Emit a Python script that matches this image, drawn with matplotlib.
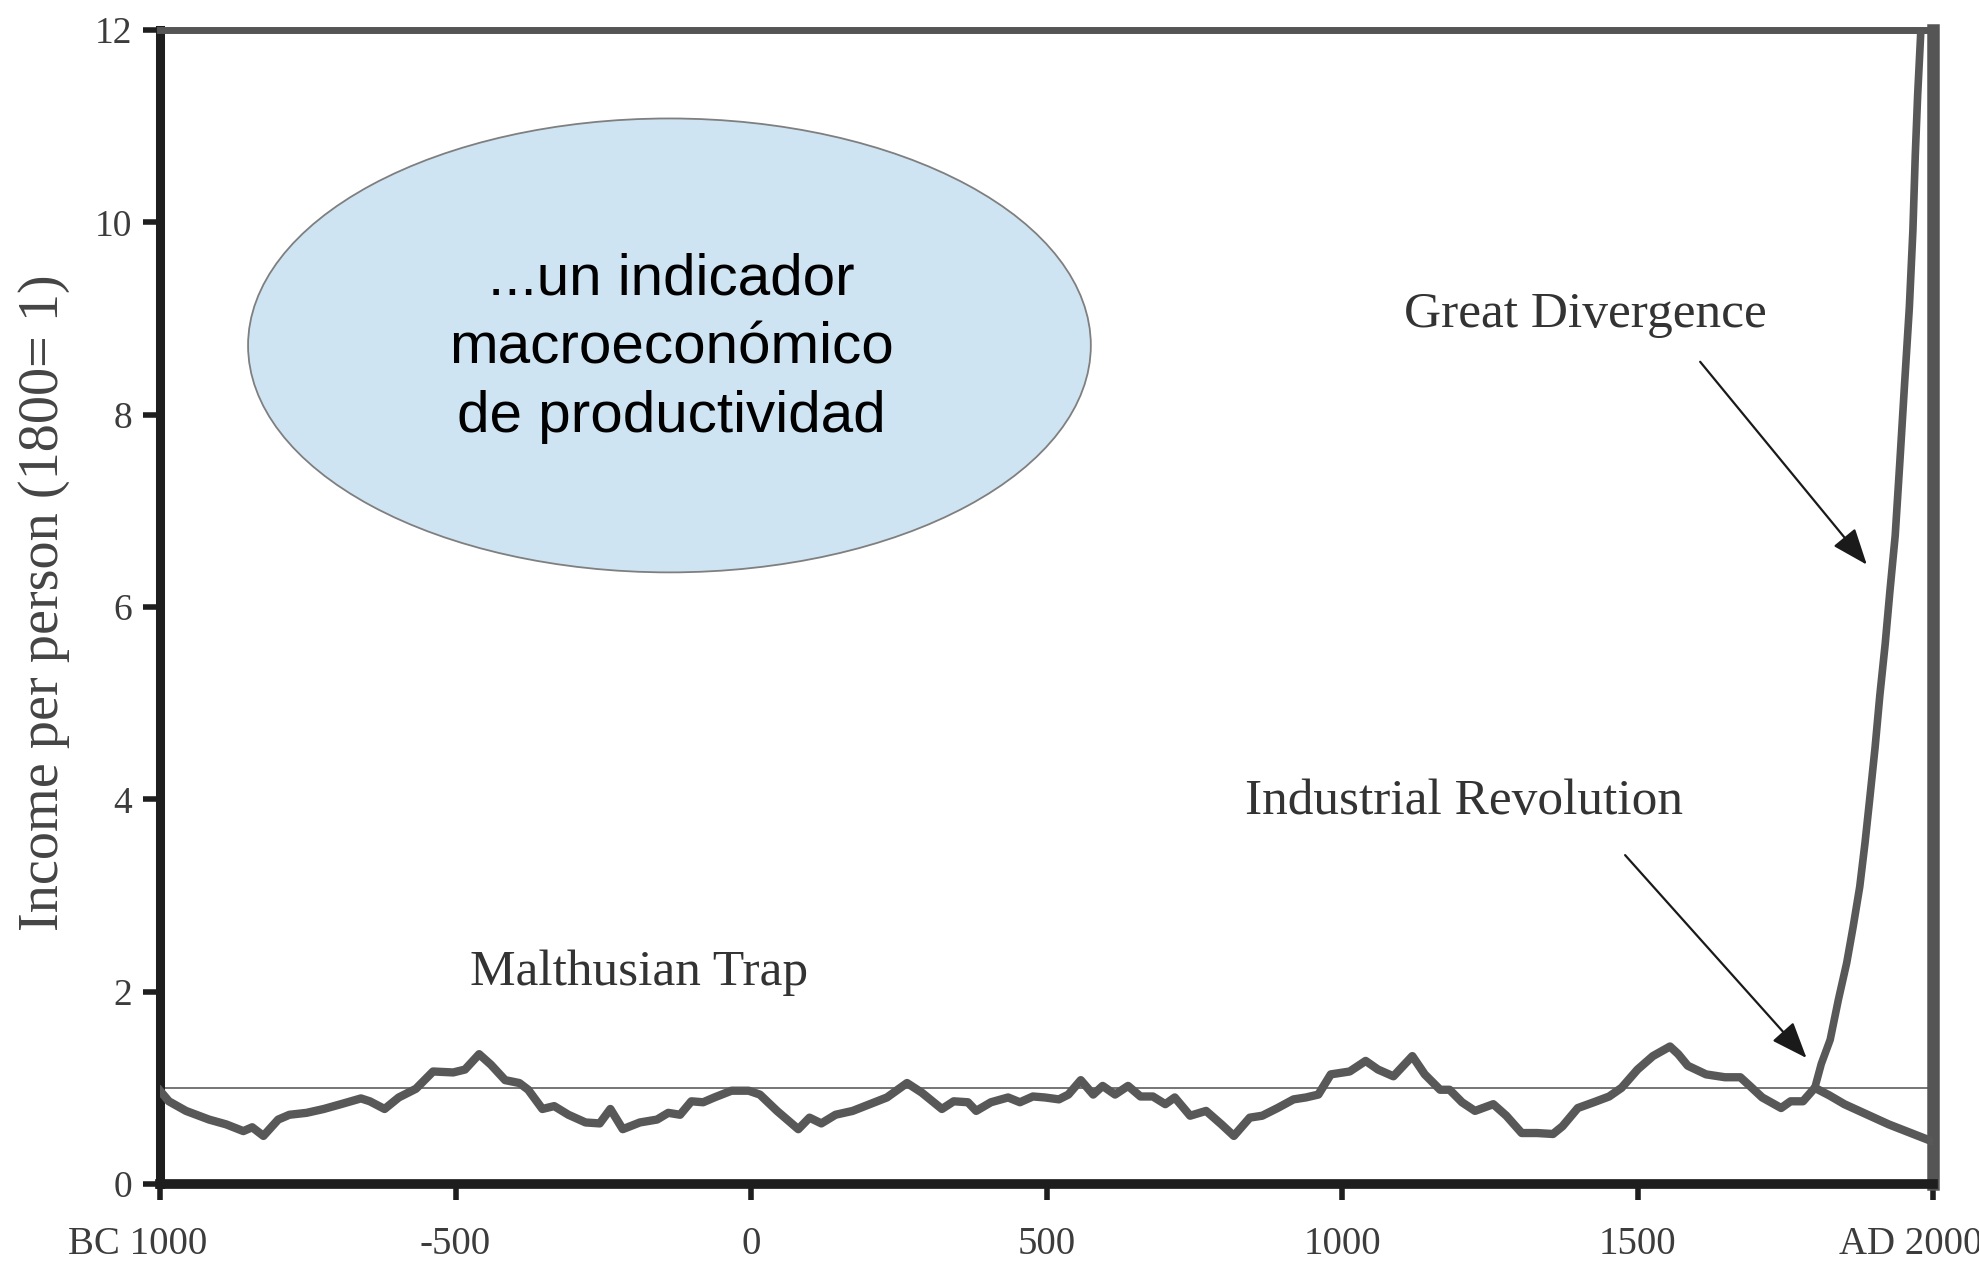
import matplotlib
matplotlib.use('Agg')
import matplotlib.pyplot as plt
from matplotlib.patches import Ellipse
from matplotlib.transforms import ScaledTranslation

# --- datos (Clark, A Farewell to Alms) ---
years = [-1000, -985, -956, -917, -888, -859, -844, -825, -800, -781, -752, -723, -694,
         -660, -645, -620, -596, -567, -538, -504, -484, -460, -440, -416, -392, -377,
         -353, -333, -309, -280, -256, -238, -217, -188, -159, -140, -120, -101, -81,
         -62, -33, -4, 15, 44, 80, 99, 119, 143, 172, 201, 230, 264, 289, 323, 343, 367,
         381, 406, 435, 455, 477, 497, 521, 537, 558, 579, 595, 616, 638, 659, 680, 701,
         717, 743, 770, 796, 817, 844, 865, 891, 918, 939, 960, 981, 1013, 1040, 1061,
         1087, 1119, 1140, 1166, 1182, 1203, 1225, 1256, 1278, 1304, 1330, 1357, 1373,
         1399, 1426, 1452, 1473, 1500, 1526, 1555, 1569, 1585, 1616, 1648, 1674, 1690,
         1711, 1743, 1759, 1780, 1800]
income = [0.97, 0.86, 0.76, 0.67, 0.62, 0.55, 0.59, 0.50, 0.67, 0.72, 0.74, 0.78, 0.83,
          0.89, 0.86, 0.78, 0.90, 0.99, 1.17, 1.16, 1.19, 1.35, 1.24, 1.08, 1.05, 0.98,
          0.78, 0.81, 0.72, 0.64, 0.63, 0.78, 0.57, 0.64, 0.67, 0.74, 0.72, 0.86, 0.85,
          0.90, 0.97, 0.97, 0.93, 0.76, 0.57, 0.69, 0.63, 0.72, 0.76, 0.83, 0.90, 1.05,
          0.95, 0.78, 0.86, 0.85, 0.76, 0.85, 0.90, 0.85, 0.91, 0.90, 0.88, 0.93, 1.08,
          0.93, 1.02, 0.93, 1.02, 0.91, 0.91, 0.83, 0.90, 0.71, 0.76, 0.62, 0.50, 0.69,
          0.71, 0.79, 0.88, 0.90, 0.93, 1.14, 1.17, 1.28, 1.19, 1.12, 1.33, 1.14, 0.98,
          0.98, 0.85, 0.76, 0.83, 0.71, 0.53, 0.53, 0.52, 0.60, 0.79, 0.85, 0.91, 1.00,
          1.19, 1.33, 1.43, 1.35, 1.23, 1.14, 1.11, 1.11, 1.02, 0.90, 0.79, 0.86, 0.86,
          1.00]

# rama que sigue la trampa maltusiana despues de 1800
decline_years = [1825, 1850, 1875, 1900, 1925, 1950, 1975, 2000]
decline_income = [0.92, 0.83, 0.76, 0.69, 0.62, 0.56, 0.50, 0.44]

# rama de la Gran Divergencia
rise_years = [1800, 1811, 1826, 1840, 1854, 1865, 1876, 1885, 1893, 1902, 1910, 1919,
              1927, 1936, 1944, 1952, 1960, 1966, 1970, 1974, 1979, 1981]
rise_income = [1.00, 1.25, 1.50, 1.92, 2.30, 2.68, 3.09, 3.55, 4.01, 4.54, 5.08, 5.61,
               6.16, 6.74, 7.52, 8.33, 9.12, 9.92, 10.70, 11.32, 11.94, 12.30]

x_ticks = [-1000, -500, 0, 500, 1000, 1500, 2000]
x_labels = ['BC 1000', '-500', '0', '500', '1000', '1500', 'AD 2000']
y_ticks = [0, 2, 4, 6, 8, 10, 12]

SERIF = 'Liberation Serif'
SANS = 'Liberation Sans'
CURVE = '#585858'
TXT = '#333333'

fig = plt.figure(figsize=(19.79, 12.64), dpi=100)
ax = fig.add_axes([0.08085, 0.06329, 0.89591, 0.91298])

ax.axhline(1, color='#6a6a6a', lw=1.3, zorder=1)
ax.plot(years + decline_years, income + decline_income, color=CURVE, lw=6,
        solid_joinstyle='round', zorder=3)
ax.plot(rise_years, rise_income, color=CURVE, lw=5.5, solid_joinstyle='round', zorder=3)

ax.set_xlim(-1000, 2000)
ax.set_ylim(0, 12)

# bordes: izq/abajo negros, arriba/derecha grises
ax.spines['left'].set_color('#1e1e1e')
ax.spines['left'].set_linewidth(6.5)
ax.spines['bottom'].set_color('#1e1e1e')
ax.spines['bottom'].set_linewidth(7)
ax.spines['top'].set_color('#555555')
ax.spines['top'].set_linewidth(5)
ax.spines['right'].set_color('#555555')
ax.spines['right'].set_linewidth(9)

ax.set_xticks(x_ticks, x_labels, fontsize=28, fontfamily=SERIF, color='#3c3c3c')
ax.set_yticks(y_ticks, [str(v) for v in y_ticks], fontsize=27, fontfamily=SERIF,
              color='#3c3c3c')
ax.tick_params(axis='x', direction='out', length=11.5, width=4, color='#1e1e1e', pad=19)
ax.tick_params(axis='y', direction='out', length=12, width=4, color='#1e1e1e', pad=8)

# etiquetas de los extremos corridas a la izquierda como en el original
xt = ax.get_xticklabels()
shift = ScaledTranslation(-0.22, 0, fig.dpi_scale_trans)
for lab in (xt[0], xt[-1]):
    lab.set_transform(lab.get_transform() + shift)

ax.set_ylabel('Income per person (1800= 1)', fontsize=40.5, fontfamily=SERIF, color='#444444',
              va='center')
ax.yaxis.set_label_coords(-0.0657, 0.5035)

# anotaciones
ax.text(1411, 8.91, 'Great Divergence', fontsize=37, fontfamily=SERIF, color=TXT,
        ha='center', va='baseline')
ax.text(1206, 3.85, 'Industrial Revolution', fontsize=37, fontfamily=SERIF, color=TXT,
        ha='center', va='baseline')
ax.text(-189, 2.07, 'Malthusian Trap', fontsize=37, fontfamily=SERIF, color=TXT,
        ha='center', va='baseline')

arrow = dict(arrowstyle='-|>,head_length=0.9,head_width=0.35', mutation_scale=25,
             color='#1a1a1a', lw=1.6, shrinkA=0, shrinkB=0)
ax.annotate('', xy=(1888, 6.44), xytext=(1606, 8.55), arrowprops=arrow)
ax.annotate('', xy=(1786, 1.31), xytext=(1479, 3.42), arrowprops=arrow)

# burbuja con el comentario
ax.add_patch(Ellipse((-138, 8.72), 1426, 4.72, facecolor='#cfe4f2', edgecolor='#7f7f7f',
                     lw=1.3, zorder=4))
ax.text(-135, 8.69, '...un indicador\nmacroeconómico\nde productividad', fontsize=42,
        fontfamily=SANS, color='black', ha='center', va='center', linespacing=1.36,
        zorder=5)

fig.savefig('out.png', dpi=100)
